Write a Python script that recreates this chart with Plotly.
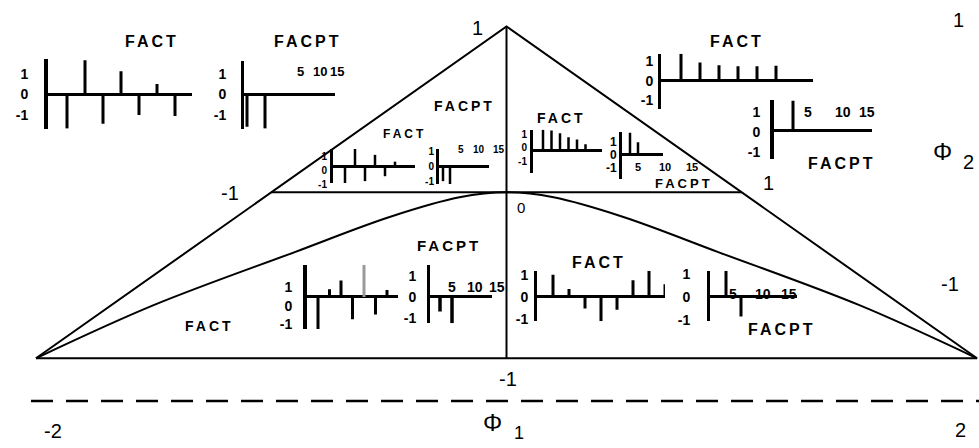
import plotly.graph_objects as go

W, H = 979, 448
FONT = "Liberation Sans, Arial, sans-serif"

# ---- AR(2) parameter plane (phi1, phi2) ----
tri_phi1 = [-2, 0, 2, -2]
tri_phi2 = [-1, 1, -1, -1]
chord_phi1 = [-1, 1]        # phi2 = 0 chord between the upper edges
chord_phi2 = [0, 0]
mid_phi1 = [0, 0]           # phi1 = 0 axis inside the triangle
mid_phi2 = [-1, 1]
# real / complex root boundary, as drawn
curve_phi1 = [-2.0, -1.5, -0.9, -0.5, -0.2, 0.0, 0.2, 0.5, 0.9, 1.5, 2.0]
curve_phi2 = [-1.0, -0.68, -0.36, -0.15, -0.03, 0.0, -0.03, -0.15, -0.36, -0.68, -1.0]

# ---- sample correlograms (values at lags 1, 2, ...) ----
acf_top_left = [-1.67, 1.68, -1.43, 1.14, -1.0, 0.52, -1.05]
pacf_top_left = [-1.57, -1.67]
acf_top_right = [1.4, 0.95, 0.8, 0.75, 0.75, 0.78]
pacf_top_right = [1.45]
acf_mid_left = [-1.21, 1.29, -1.07, 0.86, -0.71, 0.36]
pacf_mid_left = [-1.0, -1.2]
acf_mid_right = [1.55, 1.5, 1.3, 1.0, 0.85, 0.5]
pacf_mid_right = [1.7, 0.96]
acf_low_left = [-1.74, 0.42, 0.89, -1.21, 1.74, -0.95, 0.37]
pacf_low_left = [-0.7, -1.26]
acf_low_right = [1.02, 0.36, -0.53, -1.11, -0.58, 0.76, 1.2, 0.58]
pacf_low_right = [1.15, -0.85]

corr_ticks = [-1, 0, 1]
corr_tick_text = ["-1", "0", "1"]
lag_tick_text = ["5", "10", "15"]


# ---- pixel helpers ----
def px(x):
    return x / W


def py(y):
    return 1 - y / H


# main plane placement
X_LEFT, X_RIGHT = 36, 977     # phi1 = -2 and 2
Y_TOP, Y_BOT = 22, 363        # phi2 = 1 and -1
sx = (X_RIGHT - X_LEFT) / 4.0
sy = (Y_BOT - Y_TOP) / 2.0
x_range = [-2 - X_LEFT / sx, -2 + (W - X_LEFT) / sx]
y_range = [1 - (H - Y_TOP) / sy, 1 + Y_TOP / sy]

fig = go.Figure()

line_style = dict(color="black", width=2)
for xs_, ys_ in [(tri_phi1, tri_phi2), (chord_phi1, chord_phi2), (mid_phi1, mid_phi2)]:
    fig.add_trace(go.Scatter(x=xs_, y=ys_, mode="lines", line=line_style,
                             hoverinfo="skip", showlegend=False))
fig.add_trace(go.Scatter(x=curve_phi1, y=curve_phi2, mode="lines",
                         line=dict(color="black", width=2, shape="spline", smoothing=1.0),
                         hoverinfo="skip", showlegend=False))

# dashed phi1 axis under the plane
shapes = [dict(type="line", xref="paper", yref="paper",
               x0=px(31), x1=px(979), y0=py(407), y1=py(407),
               line=dict(color="black", width=2.5, dash="22px,13px"))]

# ---- correlogram insets ----
insets = [
    dict(vals=acf_top_left, box=(48, 192, 55, 127), lag0=49, step=18, zero=92, unit=21,
         fs=14, gap=18, shift=0, bw=3, aw=4),
    dict(vals=pacf_top_left, box=(244, 335, 58, 127), lag0=229, step=18, zero=92, unit=21,
         fs=14, gap=17, shift=0, bw=3, aw=3,
         lags=[(300, 68), (320, 68), (337, 68)], lfs=13),
    dict(vals=acf_top_right, box=(661, 813, 50, 107), lag0=662, step=19, zero=78, unit=20,
         fs=14, gap=7, shift=0, bw=3, aw=3),
    dict(vals=pacf_top_right, box=(774, 872, 98, 158), lag0=774, step=19, zero=128.5, unit=21,
         fs=14, gap=12, shift=2, bw=3, aw=4,
         lags=[(808, 110), (843, 110), (867, 110)], lfs=14),
    dict(vals=acf_mid_left, box=(333, 415, 148, 183), lag0=335, step=10, zero=166, unit=14,
         fs=10, gap=6, shift=4, bw=2.5, aw=3),
    dict(vals=pacf_mid_left, box=(439, 489, 148, 184), lag0=436, step=7, zero=166, unit=15,
         fs=10, gap=3, shift=0, bw=2.5, aw=3,
         lags=[(461, 148), (479, 148), (499, 148)], lfs=10),
    dict(vals=acf_mid_right, box=(533, 602, 128, 173), lag0=534.5, step=8.5, zero=150, unit=14,
         fs=10, gap=6, shift=-3, bw=2.5, aw=3),
    dict(vals=pacf_mid_right, box=(622, 663, 131, 179), lag0=622, step=8, zero=154, unit=13.5,
         fs=12, gap=5, shift=0, bw=2.5, aw=3,
         lags=[(638, 166), (665, 166), (692, 166)], lfs=11),
    dict(vals=acf_low_left, box=(307, 398, 267, 333), lag0=306.5, step=11.5, zero=300, unit=19,
         fs=14, gap=13, shift=9, bw=3, aw=4, faint=[5]),
    dict(vals=pacf_low_left, box=(430, 492, 267, 327), lag0=428, step=12, zero=300, unit=21.5,
         fs=14, gap=13, shift=0, bw=3.5, aw=3,
         lags=[(452, 290), (475, 290), (497, 290)], lfs=14),
    dict(vals=acf_low_right, box=(537, 665, 273, 325), lag0=537, step=16, zero=300, unit=22.5,
         fs=14, gap=8, shift=0, bw=3, aw=3),
    dict(vals=pacf_low_right, box=(710, 797, 273, 325), lag0=711, step=15, zero=300, unit=23.5,
         fs=14, gap=19, shift=0, bw=3, aw=3,
         lags=[(733, 297), (763, 297), (789, 297)], lfs=14),
]

layout_axes = {}
annotations = []

for i, spec in enumerate(insets, start=2):
    x0, x1, y0, y1 = spec["box"]
    faint = set(spec.get("faint", []))
    xs, ys, fx, fy = [], [], [], []
    for k, v in enumerate(spec["vals"], start=1):
        if k in faint:
            fx += [k, k, None]
            fy += [0, v, None]
        else:
            xs += [k, k, None]
            ys += [0, v, None]
    fig.add_trace(go.Scatter(x=xs, y=ys, mode="lines", xaxis=f"x{i}", yaxis=f"y{i}",
                             line=dict(color="black", width=spec["bw"]),
                             hoverinfo="skip", showlegend=False))
    if fx:
        fig.add_trace(go.Scatter(x=fx, y=fy, mode="lines", xaxis=f"x{i}", yaxis=f"y{i}",
                                 line=dict(color="#9a9a9a", width=spec["bw"]),
                                 hoverinfo="skip", showlegend=False))
    layout_axes[f"xaxis{i}"] = dict(
        domain=[px(x0), px(x1)], anchor=f"y{i}",
        range=[(x0 - spec["lag0"]) / spec["step"], (x1 - spec["lag0"]) / spec["step"]],
        visible=False, fixedrange=True)
    layout_axes[f"yaxis{i}"] = dict(
        domain=[py(y1), py(y0)], anchor=f"x{i}",
        range=[-(y1 - spec["zero"]) / spec["unit"], (spec["zero"] - y0) / spec["unit"]],
        showgrid=False, showline=True, linecolor="black", linewidth=spec["aw"],
        zeroline=True, zerolinecolor="black", zerolinewidth=2.5,
        tickmode="array", tickvals=corr_ticks, ticktext=corr_tick_text, ticks="",
        tickfont=dict(family=FONT, size=spec["fs"], color="black", weight="bold"),
        ticklabelstandoff=max(spec["gap"] - 5, 0), ticklabelshift=spec["shift"],
        fixedrange=True)
    for (lx, ly), txt in zip(spec.get("lags", []), lag_tick_text):
        annotations.append(dict(text=txt, x=px(lx), y=py(ly), xref="paper", yref="paper",
                                showarrow=False, xanchor="center", yanchor="middle",
                                font=dict(family=FONT, size=spec["lfs"], color="black",
                                          weight="bold")))

# ---- region titles ----
titles = [
    ("FACT", 150, 38, 16, 3), ("FACPT", 306, 38, 16, 3),
    ("FACT", 735, 37, 16, 3), ("FACPT", 840, 163, 16, 3),
    ("FACT", 403, 133, 12, 3), ("FACPT", 463, 104, 14, 3),
    ("FACT", 560, 116, 14, 3), ("FACPT", 682, 183, 13, 3),
    ("FACT", 208, 330, 14, 3), ("FACPT", 447, 247, 15, 3),
    ("FACT", 597, 265, 16, 3), ("FACPT", 780, 333, 16, 3),
]
for txt, x, y, fs, ls in titles:
    annotations.append(dict(text=f'<span style="letter-spacing:{ls}px">{txt}</span>',
                            x=px(x + ls / 2), y=py(y), xref="paper", yref="paper",
                            showarrow=False, xanchor="center", yanchor="middle",
                            font=dict(family=FONT, size=fs, color="black", weight="bold")))

# ---- plane labels ----
marks = [
    ("1", 477, 24, 20), ("-1", 230, 193, 20), ("1", 768, 183, 20), ("0", 521, 208, 15),
    ("-1", 508, 384, 20), ("-2", 53, 438, 20), ("\u03a6", 492, 429, 24), ("1", 519, 440, 18),
    ("2", 960, 437, 20), ("1", 958, 15, 20), ("\u03a6", 942, 151, 24), ("2", 968, 161, 20),
    ("-1", 950, 287, 20),
]
for txt, x, y, fs in marks:
    annotations.append(dict(text=txt, x=px(x), y=py(y), xref="paper", yref="paper",
                            showarrow=False, xanchor="center", yanchor="middle",
                            font=dict(family=FONT, size=fs, color="black")))

fig.update_layout(
    width=W, height=H, autosize=False,
    margin=dict(l=0, r=0, t=0, b=0),
    paper_bgcolor="white", plot_bgcolor="rgba(0,0,0,0)",
    xaxis=dict(domain=[0, 1], range=x_range, visible=False, fixedrange=True),
    yaxis=dict(domain=[0, 1], range=y_range, visible=False, fixedrange=True),
    shapes=shapes, annotations=annotations, showlegend=False,
    **layout_axes,
)

fig.write_html("out.html")
